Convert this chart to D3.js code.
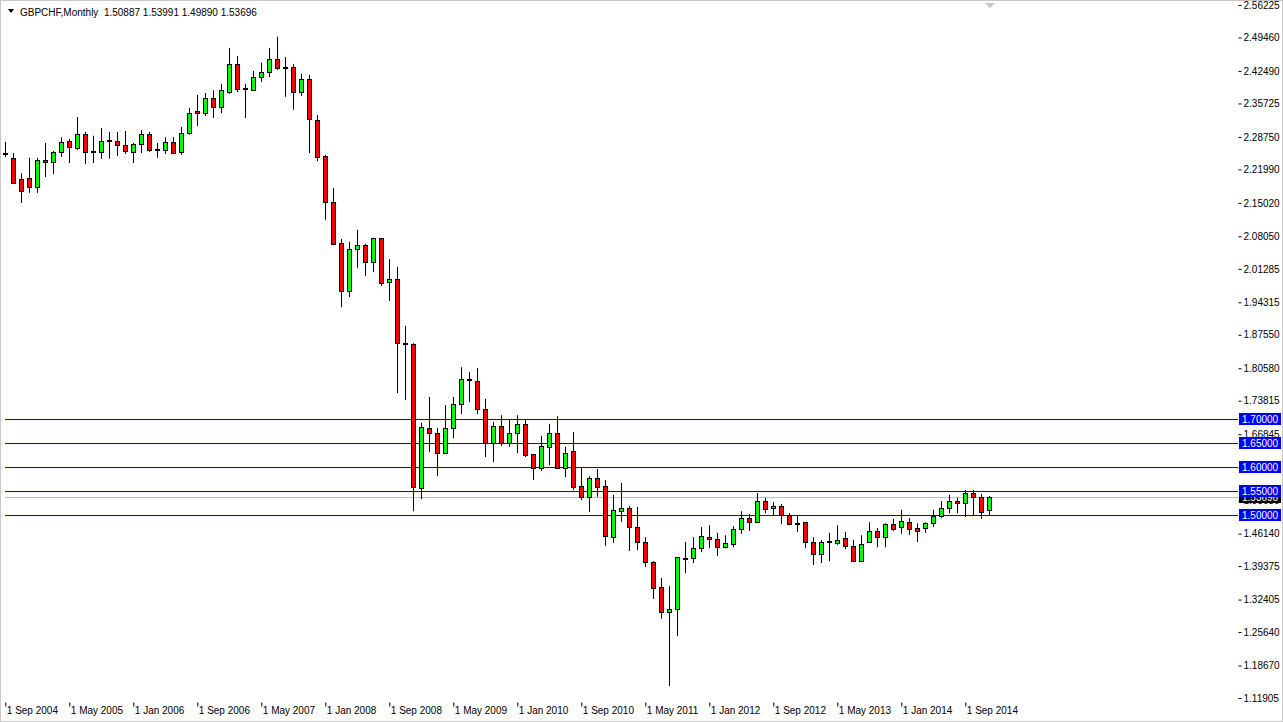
<!DOCTYPE html>
<meta charset="utf-8">
<style>* {padding:0; margin:0; border:0; outline:0;} body {background:#fff;}</style>
<body>
<script src="https://d3js.org/d3.v7.min.js"></script>
<script>
// monthly candles, Sep 2004 .. Dec 2014
opens  = [2.255,2.244,2.200,2.202,2.183,2.240,2.235,2.256,2.279,2.264,2.294,2.256,2.256,2.279,2.279,2.271,2.256,2.273,2.294,2.260,2.260,2.277,2.256,2.296,2.341,2.337,2.369,2.350,2.381,2.439,2.387,2.385,2.412,2.423,2.450,2.431,2.433,2.381,2.408,2.323,2.248,2.152,2.067,1.967,2.054,2.062,2.027,2.077,1.985,1.992,1.858,1.856,1.556,1.681,1.671,1.629,1.681,1.731,1.783,1.779,1.721,1.650,1.685,1.650,1.671,1.690,1.627,1.598,1.642,1.671,1.598,1.633,1.560,1.538,1.577,1.560,1.454,1.508,1.515,1.475,1.444,1.402,1.350,1.298,1.304,1.411,1.411,1.431,1.454,1.450,1.433,1.440,1.471,1.494,1.485,1.529,1.515,1.519,1.500,1.483,1.485,1.444,1.419,1.444,1.442,1.452,1.436,1.404,1.444,1.467,1.454,1.481,1.475,1.485,1.473,1.473,1.483,1.498,1.515,1.529,1.525,1.546,1.538,1.50887]
highs  = [2.277,2.254,2.212,2.244,2.244,2.275,2.258,2.287,2.283,2.329,2.298,2.290,2.306,2.298,2.298,2.300,2.275,2.302,2.298,2.275,2.287,2.287,2.308,2.348,2.375,2.379,2.385,2.398,2.473,2.456,2.398,2.425,2.442,2.473,2.496,2.454,2.439,2.419,2.417,2.333,2.250,2.181,2.075,2.069,2.094,2.065,2.077,2.077,2.033,2.017,1.894,1.858,1.692,1.746,1.681,1.729,1.746,1.808,1.798,1.806,1.742,1.694,1.708,1.698,1.708,1.698,1.627,1.665,1.690,1.706,1.642,1.673,1.598,1.581,1.596,1.573,1.542,1.567,1.519,1.517,1.454,1.404,1.369,1.352,1.413,1.444,1.454,1.475,1.479,1.463,1.458,1.477,1.508,1.502,1.546,1.536,1.527,1.523,1.504,1.498,1.485,1.454,1.448,1.463,1.479,1.465,1.448,1.458,1.485,1.473,1.483,1.492,1.511,1.494,1.483,1.485,1.511,1.529,1.542,1.536,1.552,1.552,1.544,1.53991]
lows   = [2.246,2.190,2.150,2.171,2.171,2.204,2.210,2.246,2.233,2.260,2.231,2.233,2.242,2.242,2.248,2.252,2.233,2.254,2.256,2.244,2.252,2.254,2.250,2.292,2.310,2.331,2.327,2.337,2.377,2.381,2.327,2.383,2.402,2.412,2.427,2.371,2.344,2.373,2.254,2.237,2.115,2.062,1.933,1.954,2.015,1.998,2.006,1.977,1.946,1.754,1.740,1.508,1.533,1.631,1.581,1.627,1.660,1.710,1.735,1.710,1.621,1.610,1.644,1.642,1.629,1.621,1.573,1.592,1.604,1.598,1.579,1.552,1.531,1.506,1.538,1.436,1.442,1.486,1.425,1.427,1.392,1.325,1.284,1.144,1.248,1.379,1.400,1.423,1.431,1.415,1.431,1.433,1.461,1.467,1.483,1.504,1.498,1.481,1.479,1.465,1.431,1.396,1.400,1.404,1.438,1.429,1.402,1.402,1.442,1.433,1.433,1.467,1.461,1.459,1.444,1.463,1.475,1.494,1.504,1.504,1.496,1.498,1.492,1.49890]
closes = [2.253,2.192,2.175,2.183,2.240,2.235,2.256,2.277,2.267,2.294,2.256,2.258,2.279,2.281,2.271,2.258,2.273,2.294,2.260,2.262,2.277,2.254,2.296,2.337,2.337,2.369,2.350,2.385,2.439,2.387,2.389,2.412,2.423,2.450,2.431,2.433,2.381,2.408,2.325,2.246,2.152,2.065,1.967,2.054,2.062,2.027,2.077,1.983,1.992,1.858,1.856,1.558,1.683,1.671,1.629,1.681,1.731,1.783,1.781,1.721,1.650,1.685,1.650,1.671,1.690,1.625,1.598,1.644,1.671,1.598,1.629,1.558,1.538,1.577,1.558,1.456,1.511,1.515,1.475,1.444,1.402,1.348,1.298,1.304,1.413,1.410,1.431,1.456,1.450,1.433,1.442,1.471,1.494,1.485,1.529,1.513,1.519,1.500,1.481,1.482,1.444,1.419,1.444,1.445,1.448,1.436,1.404,1.440,1.467,1.454,1.481,1.471,1.488,1.471,1.467,1.483,1.498,1.515,1.529,1.525,1.546,1.538,1.506,1.53696]

dateLabels = ["1 Sep 2004","1 May 2005","1 Jan 2006","1 Sep 2006","1 May 2007","1 Jan 2008","1 Sep 2008","1 May 2009","1 Jan 2010","1 Sep 2010","1 May 2011","1 Jan 2012","1 Sep 2012","1 May 2013","1 Jan 2014","1 Sep 2014"]
priceTicks = [2.56225,2.49460,2.42490,2.35725,2.28750,2.21990,2.15020,2.08050,2.01285,1.94315,1.87550,1.80580,1.73815,1.66845,1.59880,1.53030,1.46140,1.39375,1.32405,1.25640,1.18670,1.11905]
levels = [1.70,1.65,1.60,1.55,1.50]
lastPrice = 1.53696

W = 1283; H = 722
left = 4; right = 1238; top = 2; bottom = 702
font = "Tahoma, 'Liberation Sans', Arial, sans-serif"

x = d3.scaleLinear().domain([0, 154]).range([5.3, 1237.3])
y = d3.scaleLinear().domain([1.11905, 2.56225]).range([698, 5])

svg = d3.select('body').append('svg').attr('width', W).attr('height', H)
  .style('font-family', font).style('font-size', '10px')

svg.append('rect').attr('x', 0.5).attr('y', 0.5).attr('width', W-1).attr('height', H-1)
  .attr('fill', 'none').attr('stroke', '#c8c8c8')
svg.append('rect').attr('x', left+0.5).attr('y', top+0.5)
  .attr('width', right-left).attr('height', bottom-top)
  .attr('fill', '#fff').attr('stroke', '#000')

// horizontal levels (1px filled rects)
svg.append('g').selectAll('rect').data(levels).enter().append('rect')
  .attr('x', left+1).attr('width', right-left-1)
  .attr('y', d => Math.round(y(d))).attr('height', 1)
  .attr('fill', '#0000ff')
svg.append('rect').attr('x', left+1).attr('width', right-left-1)
  .attr('y', Math.round(y(lastPrice))).attr('height', 1).attr('fill', '#c0c0c0')

// right axis
ya = svg.append('g').attr('transform', 'translate(' + (right+0.5) + ',0)')
  .call(d3.axisRight(y).tickValues(priceTicks).tickSize(3).tickPadding(2).tickFormat(d3.format('.5f')))
ya.select('.domain').remove()
ya.selectAll('text').attr('fill', '#000').style('font-family', font).style('font-size', '10px')

// bottom axis
xa = svg.append('g').attr('transform', 'translate(0,' + (bottom+0.5) + ')')
  .call(d3.axisBottom(x).tickValues(dateLabels.map((d, i) => i*8)).tickSize(4).tickFormat((d, i) => dateLabels[i]))
xa.select('.domain').remove()
xa.selectAll('text').attr('text-anchor', 'start').attr('dx', '1').attr('y', 4)
  .attr('fill', '#000').style('font-family', font).style('font-size', '10px')

// candles
idx = d3.range(closes.length)
c = svg.append('g')
c.selectAll('line').data(idx).enter().append('line')
  .attr('x1', i => Math.round(x(i))+0.5).attr('x2', i => Math.round(x(i))+0.5)
  .attr('y1', i => y(highs[i])).attr('y2', i => y(lows[i]))
  .style('stroke', '#000').style('stroke-width', 1)
c.selectAll('rect').data(idx).enter().append('rect')
  .attr('x', i => Math.round(x(i))-2+0.5)
  .attr('y', i => Math.round(y(Math.max(opens[i], closes[i])))+0.5)
  .attr('width', 4)
  .attr('height', i => Math.max(1, Math.round(Math.abs(y(opens[i]) - y(closes[i])))))
  .attr('fill', i => closes[i] >= opens[i] ? '#00ff00' : '#ff0000')
  .style('stroke', '#000').style('stroke-width', 1)

// level labels
lp = svg.append('g').attr('transform', 'translate(' + (right+1) + ',' + Math.round(y(lastPrice)) + ')')
lp.append('rect').attr('x', 0).attr('y', -5).attr('width', 42).attr('height', 11).attr('fill', '#000')
lp.append('text').attr('x', 3).attr('y', 4).attr('fill', '#fff').text(d3.format('.5f')(lastPrice))

lv = svg.selectAll('g.lv').data(levels).enter().append('g').attr('class', 'lv')
  .attr('transform', d => 'translate(' + (right+1) + ',' + Math.round(y(d)) + ')')
lv.append('rect').attr('x', 0).attr('y', -6).attr('width', 42).attr('height', 12).attr('fill', '#0000ff')
lv.append('text').attr('x', 3).attr('y', 4).attr('fill', '#fff').text(d => d3.format('.5f')(d))

// header
svg.append('path').attr('d', 'M8,9 L14,9 L11,13 Z').attr('fill', '#000')
svg.append('text').attr('x', 20).attr('y', 16).attr('fill', '#000').style('white-space', 'pre')
  .text('GBPCHF,Monthly  ' + [opens, highs, lows, closes].map(a => d3.format('.5f')(a[a.length-1])).join(' '))

// shift marker
svg.append('path').attr('d', 'M985,3 L995,3 L990,8 Z').attr('fill', '#c8c8c8')
</script>
